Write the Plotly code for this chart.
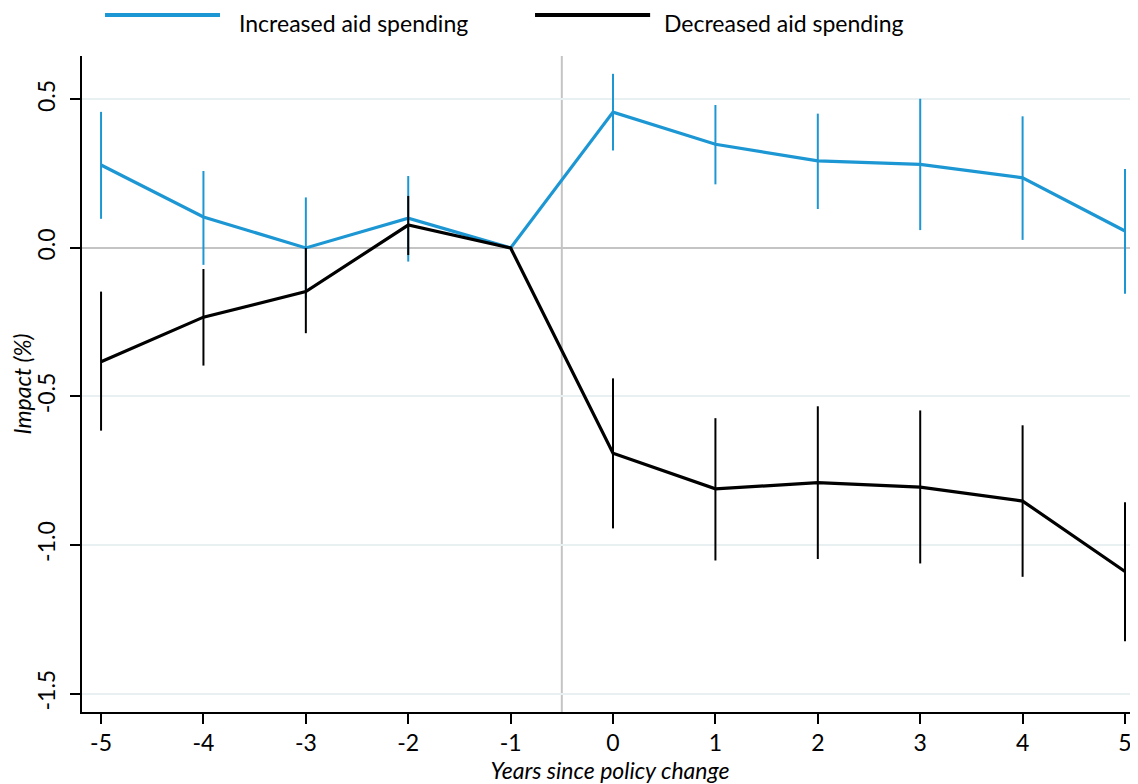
import plotly.graph_objects as go

years = [-5, -4, -3, -2, -1, 0, 1, 2, 3, 4, 5]
year_labels = ["-5", "-4", "-3", "-2", "-1", "0", "1", "2", "3", "4", "5"]

series_names = ["Increased aid spending", "Decreased aid spending"]
series_colors = ["#1d97d3", "#000000"]

inc_est = [0.279, 0.104, 0.0, 0.100, 0.0, 0.457, 0.349, 0.293, 0.281, 0.236, 0.057]
inc_hi = [0.458, 0.259, 0.170, 0.242, 0.0, 0.586, 0.481, 0.452, 0.502, 0.443, 0.266]
inc_lo = [0.098, -0.057, -0.170, -0.046, 0.0, 0.328, 0.214, 0.131, 0.060, 0.027, -0.154]

dec_est = [-0.383, -0.233, -0.147, 0.077, 0.0, -0.691, -0.811, -0.790, -0.805, -0.852, -1.089]
dec_hi = [-0.147, -0.071, 0.0, 0.175, 0.0, -0.439, -0.573, -0.533, -0.547, -0.597, -0.856]
dec_lo = [-0.615, -0.396, -0.287, -0.024, 0.0, -0.944, -1.052, -1.047, -1.062, -1.107, -1.324]

y_ticks = [0.5, 0.0, -0.5, -1.0, -1.5]
y_tick_labels = ["0.5", "0.0", "-0.5", "-1.0", "-1.5"]

policy_change_x = -0.5

FONT = "Lato, 'Open Sans', sans-serif"

fig = go.Figure()

for name, color, est, hi, lo in [
    (series_names[0], series_colors[0], inc_est, inc_hi, inc_lo),
    (series_names[1], series_colors[1], dec_est, dec_hi, dec_lo),
]:
    plus = [h - e for h, e in zip(hi, est)]
    minus = [e - l for e, l in zip(est, lo)]
    fig.add_trace(go.Scatter(
        x=years, y=est, mode="lines", name=name,
        line=dict(color=color, width=3.2),
        error_y=dict(type="data", symmetric=False, array=plus, arrayminus=minus,
                     width=0, thickness=2, color=color),
        showlegend=False,
    ))

fig.add_vline(x=policy_change_x, line=dict(color="#c4c4c4", width=2), layer="below")

# manual legend with long line samples (paper coordinates of the plot area)
legend_line_x = [(0.0218, 0.1307), (0.4290, 0.5380)]
legend_text_x = [0.1477, 0.5500]
legend_line_y = 1.0625
legend_text_top = 1.0730  # top edge of the figure
for (x0, x1), tx, name, color in zip(legend_line_x, legend_text_x, series_names, series_colors):
    fig.add_shape(type="line", xref="paper", yref="paper", x0=x0, x1=x1,
                  y0=legend_line_y, y1=legend_line_y, line=dict(color=color, width=4))
    fig.add_annotation(xref="paper", yref="paper", x=tx, y=legend_text_top,
                       text=name, showarrow=False, xanchor="left", yanchor="top",
                       borderpad=0,
                       font=dict(family=FONT, size=23, color="#000000"))

# the page body has an 8px margin, so the figure is 8px smaller
fig.update_layout(
    width=1130, height=776,
    margin=dict(l=74, r=0, t=48, b=72),
    paper_bgcolor="white", plot_bgcolor="white",
    font=dict(family=FONT, size=23, color="#000000"),
    showlegend=False,
)

fig.update_xaxes(
    range=[-5.186, 5.127],
    tickvals=years, ticktext=year_labels,
    ticks="outside", ticklen=10, tickwidth=1.5, tickcolor="#000000",
    showline=True, linecolor="#000000", linewidth=1.5,
    showgrid=False, zeroline=False,
    tickfont=dict(size=23),
    automargin=False,
    title=dict(text="<i>Years since policy change</i>", font=dict(size=23), standoff=0),
)

fig.update_yaxes(
    range=[-1.562, 0.646],
    tickvals=y_ticks, ticktext=y_tick_labels, tickangle=-90,
    ticks="outside", ticklen=10, tickwidth=1.5, tickcolor="#000000",
    ticklabelstandoff=6,
    showline=True, linecolor="#000000", linewidth=1.5,
    showgrid=True, gridcolor="#e9f0f2", gridwidth=2,
    zeroline=True, zerolinecolor="#c4c4c4", zerolinewidth=2,
    tickfont=dict(size=23),
    automargin=False,
    title=dict(text="<i>Impact (%)</i>", font=dict(size=23), standoff=0),
)

fig.write_html("out.html")
